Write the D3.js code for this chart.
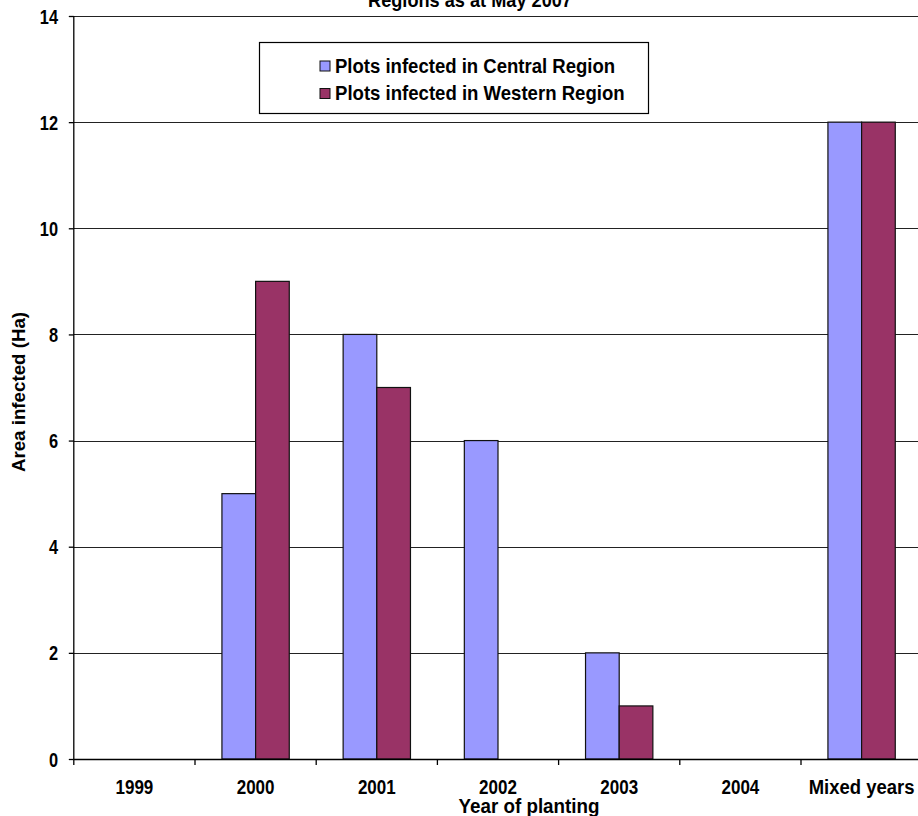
<!DOCTYPE html>
<html>
<head>
<meta charset="utf-8">
<script src="https://cdn.jsdelivr.net/npm/d3@7/dist/d3.min.js"></script>
<style>
  html, body { margin: 0; padding: 0; background: #fff; }
  svg { display: block; }
  text { font-family: "Liberation Sans", Arial, sans-serif; font-weight: bold; fill: #000; }
</style>
</head>
<body>
<svg id="chart" width="918" height="816"></svg>
<script>
// Area infected by year of planting, per region
const categories = ["1999", "2000", "2001", "2002", "2003", "2004", "Mixed years"];
const seriesNames = ["Plots infected in Central Region", "Plots infected in Western Region"];
const centralValues = [0, 5, 8, 6, 2, 0, 12];
const westernValues = [0, 9, 7, 0, 1, 0, 12];
const seriesColors = ["#9999FF", "#993366"];
const yTicks = [0, 2, 4, 6, 8, 10, 12, 14];
const titleText = "Regions as at May 2007";
const yTitle = "Area  infected (Ha)";
const xTitle = "Year of planting";

const svg = d3.select("#chart");
const plot = { left: 73.8, right: 922.2, top: 16, bottom: 759 };

const x = d3.scaleBand().domain(categories).range([plot.left, plot.right]).paddingInner(0).paddingOuter(0);
const xSeries = d3.scaleBand().domain(seriesNames).range([0, x.bandwidth()]).paddingInner(0).paddingOuter(0.8);
const y = d3.scaleLinear().domain([0, 14]).range([plot.bottom, plot.top]);

// Horizontal gridlines
svg.append("g")
  .selectAll("line")
  .data(yTicks.filter(d => d > 0))
  .join("line")
  .attr("x1", plot.left).attr("x2", 918)
  .attr("y1", d => Math.round(y(d)) + 0.5).attr("y2", d => Math.round(y(d)) + 0.5)
  .attr("stroke", "#222").attr("stroke-width", 1.2);

// Bars (zero values leave no bar)
const rows = categories.map((c, i) => ({ cat: c, vals: [centralValues[i], westernValues[i]] }));
const groups = svg.append("g").selectAll("g")
  .data(rows).join("g")
  .attr("transform", d => `translate(${x(d.cat)},0)`);
groups.selectAll("rect")
  .data(d => d.vals.map((v, k) => ({ name: seriesNames[k], v, k })).filter(e => e.v > 0))
  .join("rect")
  .attr("x", e => xSeries(e.name))
  .attr("width", xSeries.bandwidth())
  .attr("y", e => y(e.v))
  .attr("height", e => y(0) - y(e.v))
  .attr("fill", e => seriesColors[e.k])
  .attr("stroke", "#111").attr("stroke-width", 1.2);

// Helper: horizontally condensed text
function squeezed(parent, tx, ty, str, size, sx, anchor, rotate) {
  const g = parent.append("g")
    .attr("transform", `translate(${tx},${ty})` + (rotate ? ` rotate(${rotate})` : "") + ` scale(${sx},1)`);
  g.append("text").attr("x", 0).attr("y", 0)
    .attr("text-anchor", anchor).attr("font-size", size).text(str);
  return g;
}

// Y axis
const yAxis = d3.axisLeft(y).tickValues(yTicks).tickSize(5).tickFormat("");
svg.append("g").attr("transform", `translate(${plot.left},0)`).call(yAxis)
  .call(g => g.selectAll("line,path").attr("stroke", "#000").attr("stroke-width", 1.3))
  .call(g => g.select(".domain").attr("d", `M0,${plot.top}V${plot.bottom}`));
yTicks.forEach(t => squeezed(svg, 58, y(t) + 7.5, String(t), 21, 0.78, "end"));

// X axis: ticks at category boundaries
const xAxisG = svg.append("g").attr("transform", `translate(0,${plot.bottom})`);
xAxisG.append("line").attr("x1", plot.left).attr("x2", 918).attr("y1", 0.5).attr("y2", 0.5)
  .attr("stroke", "#000").attr("stroke-width", 1.4);
xAxisG.selectAll("line.tick")
  .data(categories.map(c => x(c)))
  .join("line").attr("class", "tick")
  .attr("x1", d => d).attr("x2", d => d).attr("y1", 0).attr("y2", 6)
  .attr("stroke", "#000").attr("stroke-width", 1.3);
categories.forEach(c => {
  const sx = c === "Mixed years" ? 0.88 : 0.81;
  squeezed(svg, x(c) + x.bandwidth() / 2, 794, c, 21, sx, "middle");
});

// Axis titles
squeezed(svg, 529, 812.5, xTitle, 20, 0.94, "middle");
squeezed(svg, 25, 392, yTitle, 18, 1.04, "middle", -90);

// Chart title (runs off the top edge)
squeezed(svg, 470, 7, titleText, 21, 0.865, "middle");

// Legend
const legend = svg.append("g");
legend.append("rect").attr("x", 259.5).attr("y", 42.5).attr("width", 389).attr("height", 71)
  .attr("fill", "#fff").attr("stroke", "#000").attr("stroke-width", 1.2);
seriesNames.forEach((name, i) => {
  const ly = 61 + i * 27.5;
  legend.append("rect").attr("x", 320).attr("y", ly).attr("width", 10).attr("height", 10)
    .attr("fill", seriesColors[i]).attr("stroke", "#111").attr("stroke-width", 1);
  squeezed(legend, 335, ly + 11.5, name, 21, i === 0 ? 0.883 : 0.885, "start");
});
</script>
</body>
</html>
